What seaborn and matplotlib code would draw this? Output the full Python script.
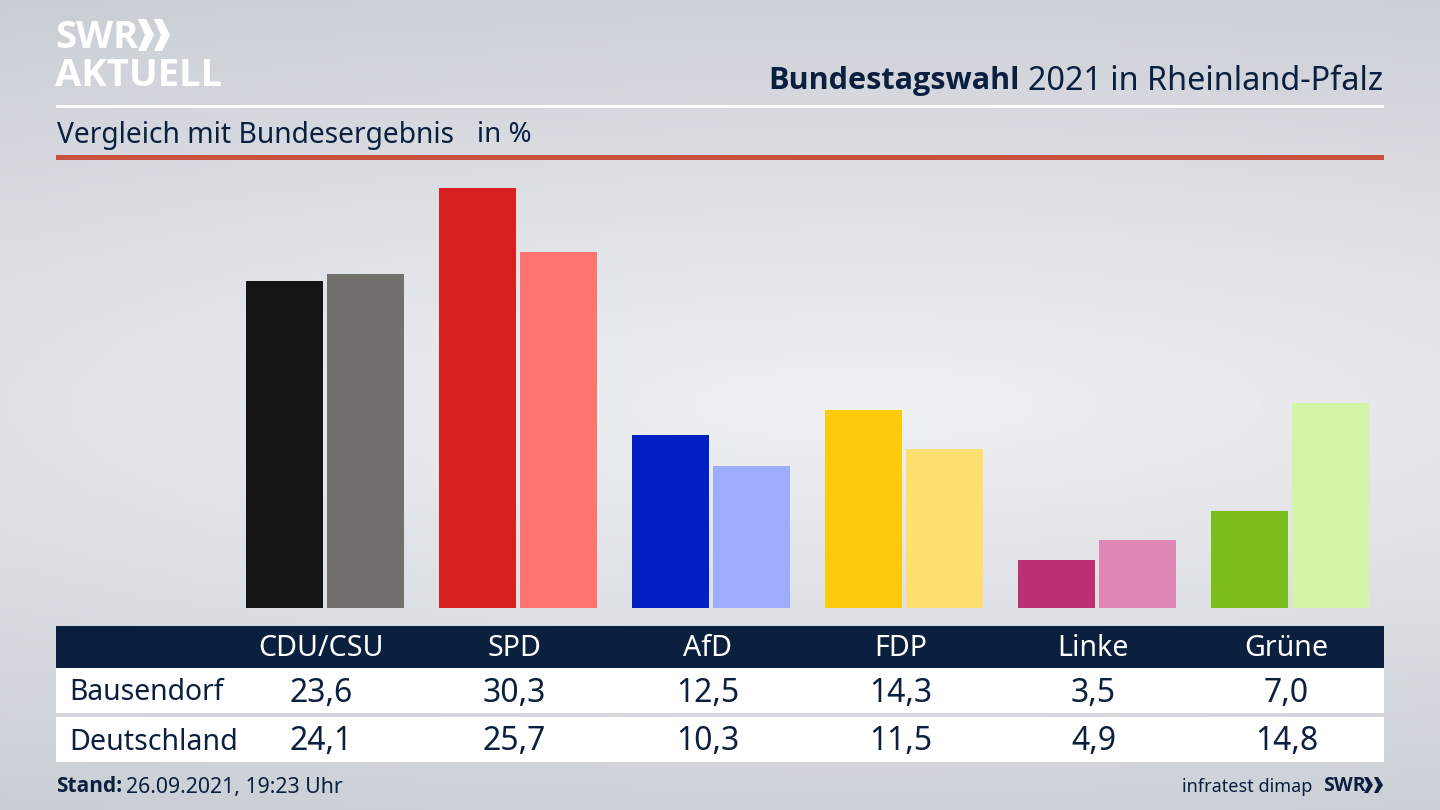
import numpy as np
import pandas as pd
import matplotlib.pyplot as plt
import seaborn as sns
from matplotlib.patches import Polygon, Rectangle

parties = ['CDU/CSU', 'SPD', 'AfD', 'FDP', 'Linke', 'Grüne']
bausendorf = [23.6, 30.3, 12.5, 14.3, 3.5, 7.0]
deutschland = [24.1, 25.7, 10.3, 11.5, 4.9, 14.8]
colors_bausendorf = ['#141414', '#d7201f', '#0020c4', '#fdcb0b', '#bb2f75', '#7abd1c']
colors_deutschland = ['#72706d', '#ff7470', '#9eacff', '#fedf71', '#df88b6', '#d2f5a8']

NAVY = '#0b1f3e'
FONT = 'Noto Sans'
BOLD = 'Open Sans'

sns.set_theme(style='white')
plt.rcParams['font.family'] = [FONT, 'DejaVu Sans']

df = pd.DataFrame({
    'party': parties * 2,
    'value': bausendorf + deutschland,
    'region': ['Bausendorf'] * 6 + ['Deutschland'] * 6,
})

fig = plt.figure(figsize=(14.4, 8.1), dpi=100)

# background, grey at the edges and lighter in the middle
bg = fig.add_axes([0, 0, 1, 1], zorder=0)
yy, xx = np.mgrid[0:1:162j, 0:1:288j]
dist = np.sqrt(((xx - 0.6) / 1.5) ** 2 + ((yy - 0.5) / 0.6) ** 2)
shade = np.clip(1 - dist, 0, 1)
c0 = np.array([198, 203, 211]) / 255
c1 = np.array([240, 241, 243]) / 255
bg.imshow(c0 + (c1 - c0) * shade[..., None], aspect='auto', extent=[0, 1440, 810, 0])
bg.set_xlim(0, 1440)
bg.set_ylim(810, 0)
bg.axis('off')

# bars, axes placed so the baseline sits at y=608
ax = fig.add_axes([228.5 / 1440, (810 - 608.4) / 810, 1158 / 1440, 448 / 810], zorder=1)
ax.patch.set_alpha(0)
sns.barplot(data=df, x='party', y='value', hue='region', width=0.845, gap=0.055,
            legend=False, ax=ax, saturation=1)
for cont, cols in zip(ax.containers, [colors_bausendorf, colors_deutschland]):
    for bar, c in zip(cont, cols):
        bar.set_facecolor(c)
        bar.set_edgecolor('none')
        bar.set_linewidth(0)
ax.set_xlim(-0.5, 5.5)
ax.set_ylim(0, 448 / 13.87)
ax.axis('off')

# overlay in pixel coordinates for header, table and footer
ov = fig.add_axes([0, 0, 1, 1], zorder=2)
ov.set_xlim(0, 1440)
ov.set_ylim(810, 0)
ov.axis('off')
ov.patch.set_alpha(0)

ov.add_patch(Rectangle((56, 105), 1328, 2.5, color='white', lw=0))
ov.add_patch(Rectangle((56, 155), 1328, 5, color='#c8503c', lw=0))
ov.add_patch(Rectangle((56, 626), 1328, 42, color=NAVY, lw=0))
ov.add_patch(Rectangle((56, 668), 1328, 45, color='white', lw=0))
ov.add_patch(Rectangle((56, 717), 1328, 45, color='white', lw=0))

# logo
ov.text(55, 38, 'SWR', color='white', fontsize=27.5, fontweight='bold', va='center', family=BOLD)
ov.text(55, 76, 'AKTUELL', color='white', fontsize=27.5, fontweight='bold', va='center', family=BOLD)
for x0 in (138, 154):
    ov.add_patch(Polygon([(x0, 19), (x0 + 8, 19), (x0 + 16, 35), (x0 + 8, 51), (x0, 51), (x0 + 7, 35)],
                         color='white', lw=0))

# titles
ov.text(1020, 81, 'Bundestagswahl', color=NAVY, fontsize=22.1, fontweight='bold', ha='right', va='center', family=BOLD)
ov.text(1383, 81, '2021 in Rheinland-Pfalz', color=NAVY, fontsize=23.3, ha='right', va='center')
ov.text(57, 135, 'Vergleich mit Bundesergebnis', color=NAVY, fontsize=20.3, va='center')
ov.text(477, 135, 'in %', color=NAVY, fontsize=20, va='center')

# table
centers = [321.5 + i * 193 for i in range(len(parties))]
ov.text(69, 693, 'Bausendorf', color=NAVY, fontsize=20.4, va='center')
ov.text(69, 742, 'Deutschland', color=NAVY, fontsize=20.6, va='center')
for x, party, a, b in zip(centers, parties, bausendorf, deutschland):
    ov.text(x, 649, party, color='white', fontsize=20.6, ha='center', va='center')
    ov.text(x, 694, f'{a:.1f}'.replace('.', ','), color=NAVY, fontsize=23, ha='center', va='center')
    ov.text(x, 742, f'{b:.1f}'.replace('.', ','), color=NAVY, fontsize=23, ha='center', va='center')

# footer
ov.text(56, 787, 'Stand:', color=NAVY, fontsize=15, fontweight='bold', va='center', family=BOLD)
ov.text(126, 787, '26.09.2021, 19:23 Uhr', color=NAVY, fontsize=15.3, va='center')
ov.text(1312, 787, 'infratest dimap', color=NAVY, fontsize=13, ha='right', va='center')
ov.text(1323, 786, 'SWR', color=NAVY, fontsize=14, fontweight='bold', va='center', family=BOLD)
for x0 in (1364, 1374):
    ov.add_patch(Polygon([(x0, 777), (x0 + 4, 777), (x0 + 9, 785), (x0 + 4, 793), (x0, 793), (x0 + 4, 785)],
                         color=NAVY, lw=0))

fig.savefig('out.png', dpi=100)
